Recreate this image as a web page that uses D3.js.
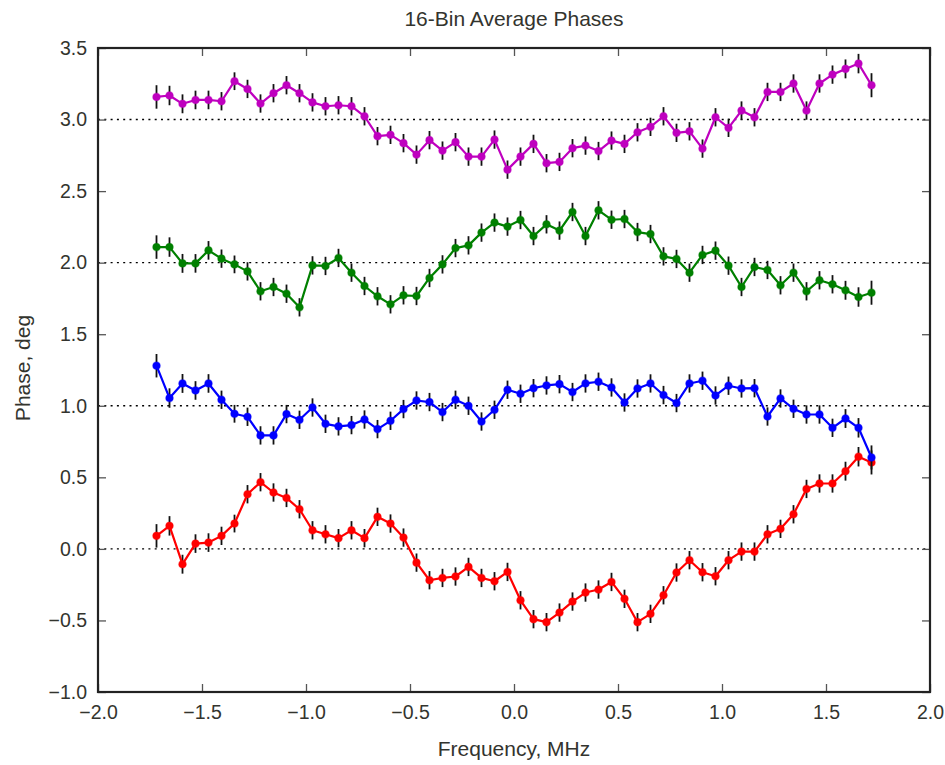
<!DOCTYPE html>
<html>
<head>
<meta charset="utf-8">
<script src="https://cdn.jsdelivr.net/npm/d3@7"></script>
<style>
  html, body { margin: 0; padding: 0; background: #fff; }
  svg { display: block; }
  text { font-family: "Liberation Sans", Arial, Helvetica, sans-serif; fill: #33342e; }
</style>
</head>
<body>
<script>
// Channel centre frequencies (MHz), 16-bin averages
const freqs = [
  -1.71875, -1.65625, -1.59375, -1.53125, -1.46875, -1.40625, -1.34375, -1.28125,
  -1.21875, -1.15625, -1.09375, -1.03125, -0.96875, -0.90625, -0.84375, -0.78125,
  -0.71875, -0.65625, -0.59375, -0.53125, -0.46875, -0.40625, -0.34375, -0.28125,
  -0.21875, -0.15625, -0.09375, -0.03125, 0.03125, 0.09375, 0.15625, 0.21875,
  0.28125, 0.34375, 0.40625, 0.46875, 0.53125, 0.59375, 0.65625, 0.71875,
  0.78125, 0.84375, 0.90625, 0.96875, 1.03125, 1.09375, 1.15625, 1.21875,
  1.28125, 1.34375, 1.40625, 1.46875, 1.53125, 1.59375, 1.65625, 1.71875
];

// Averaged phases for each trace (deg)
const phaseRed = [
  0.091, 0.161, -0.107, 0.037, 0.044, 0.091, 0.177, 0.382,
  0.466, 0.394, 0.356, 0.277, 0.130, 0.102, 0.075, 0.130,
  0.075, 0.224, 0.177, 0.079, -0.096, -0.219, -0.203, -0.193,
  -0.126, -0.203, -0.226, -0.161, -0.359, -0.491, -0.512, -0.445,
  -0.368, -0.305, -0.284, -0.231, -0.349, -0.512, -0.454, -0.324,
  -0.165, -0.079, -0.163, -0.191, -0.079, -0.019, -0.019, 0.102,
  0.140, 0.242, 0.419, 0.457, 0.457, 0.543, 0.644, 0.604
];
const phaseBlue = [
  1.280, 1.054, 1.156, 1.107, 1.156, 1.042, 0.944, 0.923,
  0.793, 0.793, 0.942, 0.902, 0.988, 0.874, 0.856, 0.865,
  0.904, 0.837, 0.895, 0.977, 1.037, 1.026, 0.956, 1.042,
  1.000, 0.890, 0.972, 1.112, 1.084, 1.123, 1.142, 1.151,
  1.096, 1.156, 1.168, 1.128, 1.023, 1.121, 1.156, 1.075,
  1.019, 1.156, 1.175, 1.072, 1.140, 1.121, 1.123, 0.925,
  1.051, 0.979, 0.939, 0.939, 0.846, 0.911, 0.846, 0.639
];
const phaseGreen = [
  2.109, 2.109, 1.995, 1.995, 2.086, 2.028, 1.988, 1.939,
  1.800, 1.830, 1.783, 1.688, 1.981, 1.977, 2.033, 1.930,
  1.837, 1.765, 1.709, 1.772, 1.767, 1.893, 1.988, 2.102,
  2.121, 2.210, 2.280, 2.252, 2.298, 2.186, 2.268, 2.224,
  2.354, 2.186, 2.366, 2.300, 2.305, 2.214, 2.200, 2.044,
  2.026, 1.930, 2.054, 2.084, 1.979, 1.830, 1.970, 1.949,
  1.842, 1.930, 1.800, 1.877, 1.849, 1.807, 1.760, 1.790
];
const phaseMagenta = [
  3.158, 3.168, 3.110, 3.137, 3.137, 3.128, 3.268, 3.214,
  3.112, 3.184, 3.240, 3.184, 3.120, 3.093, 3.100, 3.093,
  3.023, 2.884, 2.893, 2.835, 2.755, 2.856, 2.783, 2.842,
  2.741, 2.741, 2.860, 2.650, 2.741, 2.830, 2.695, 2.704,
  2.800, 2.818, 2.780, 2.853, 2.830, 2.911, 2.949, 3.023,
  2.907, 2.918, 2.797, 3.016, 2.942, 3.063, 3.016, 3.193,
  3.193, 3.252, 3.063, 3.252, 3.314, 3.354, 3.391, 3.240
];

// One-sigma phase uncertainty per channel (deg)
const phaseErr = [
  0.082, 0.068, 0.066, 0.065, 0.065, 0.064, 0.062, 0.064,
  0.064, 0.064, 0.064, 0.064, 0.064, 0.064, 0.064, 0.064,
  0.064, 0.064, 0.064, 0.064, 0.064, 0.064, 0.064, 0.064,
  0.064, 0.064, 0.064, 0.064, 0.064, 0.064, 0.064, 0.064,
  0.064, 0.064, 0.064, 0.064, 0.064, 0.064, 0.064, 0.064,
  0.064, 0.064, 0.064, 0.064, 0.064, 0.064, 0.064, 0.064,
  0.064, 0.064, 0.064, 0.064, 0.064, 0.066, 0.068, 0.084
];

const xTicks = [-2.0, -1.5, -1.0, -0.5, 0.0, 0.5, 1.0, 1.5, 2.0];
const yTicks = [-1.0, -0.5, 0.0, 0.5, 1.0, 1.5, 2.0, 2.5, 3.0, 3.5];
const refLevels = [0.0, 1.0, 2.0, 3.0];

const traces = [
  { name: "red", values: phaseRed, color: "#ff0000" },
  { name: "blue", values: phaseBlue, color: "#0000ff" },
  { name: "green", values: phaseGreen, color: "#008000" },
  { name: "magenta", values: phaseMagenta, color: "#bf00bf" }
];

const W = 945, H = 765;
const plotL = 98, plotR = 930, plotT = 48, plotB = 692;

const svg = d3.select("body").append("svg")
  .attr("width", W).attr("height", H);

const x = d3.scaleLinear().domain([-2, 2]).range([plotL, plotR]);
const y = d3.scaleLinear().domain([-1, 3.5]).range([plotB, plotT]);

const fmt = d => d3.format(".1f")(d).replace("-", "\u2212");

// dotted reference levels
svg.append("g").selectAll("line").data(refLevels).join("line")
  .attr("x1", plotL).attr("x2", plotR)
  .attr("y1", d => y(d)).attr("y2", d => y(d))
  .attr("stroke", "#000").attr("stroke-width", 1.4)
  .attr("stroke-dasharray", "2,4.3");

// traces: error bars, then connecting line and markers
const line = d3.line().x((d, i) => x(freqs[i])).y(d => y(d));
traces.forEach(t => {
  const g = svg.append("g").attr("class", "trace-" + t.name);
  g.selectAll("line.err").data(t.values).join("line")
    .attr("class", "err")
    .attr("x1", (d, i) => x(freqs[i])).attr("x2", (d, i) => x(freqs[i]))
    .attr("y1", (d, i) => y(d - phaseErr[i])).attr("y2", (d, i) => y(d + phaseErr[i]))
    .attr("stroke", "#111").attr("stroke-width", 1.8);
  g.append("path").datum(t.values)
    .attr("d", line)
    .attr("fill", "none").attr("stroke", t.color)
    .attr("stroke-width", 2.2).attr("stroke-linejoin", "round");
  g.selectAll("circle").data(t.values).join("circle")
    .attr("cx", (d, i) => x(freqs[i])).attr("cy", d => y(d))
    .attr("r", 3.8).attr("fill", t.color)
    .attr("stroke", t.color).attr("stroke-opacity", 0.35).attr("stroke-width", 1.2);
});

// axes: inward ticks on all four sides
const tickLen = 8;
const xAxisB = d3.axisBottom(x).tickValues(xTicks).tickSizeInner(-tickLen).tickSizeOuter(0).tickPadding(13).tickFormat(fmt);
const xAxisT = d3.axisTop(x).tickValues(xTicks).tickSizeInner(-tickLen).tickSizeOuter(0).tickFormat("");
const yAxisL = d3.axisLeft(y).tickValues(yTicks).tickSizeInner(-tickLen).tickSizeOuter(0).tickPadding(11).tickFormat(fmt);
const yAxisR = d3.axisRight(y).tickValues(yTicks).tickSizeInner(-tickLen).tickSizeOuter(0).tickFormat("");

function styleAxis(g) {
  g.select(".domain").remove();
  g.selectAll(".tick line").attr("stroke", "#555").attr("stroke-width", 1.3);
  g.selectAll(".tick text").attr("font-size", 19.5).attr("fill", "#33342e")
    .style("font-family", '"Liberation Sans", Arial, sans-serif');
}
svg.append("g").attr("transform", `translate(0,${plotB})`).call(xAxisB).call(styleAxis);
svg.append("g").attr("transform", `translate(0,${plotT})`).call(xAxisT).call(styleAxis);
svg.append("g").attr("transform", `translate(${plotL},0)`).call(yAxisL).call(styleAxis);
svg.append("g").attr("transform", `translate(${plotR},0)`).call(yAxisR).call(styleAxis);

// plot frame
svg.append("rect")
  .attr("x", plotL).attr("y", plotT)
  .attr("width", plotR - plotL).attr("height", plotB - plotT)
  .attr("fill", "none").attr("stroke", "#222").attr("stroke-width", 2.2);

// titles
svg.append("text")
  .attr("x", (plotL + plotR) / 2).attr("y", 26)
  .attr("text-anchor", "middle").attr("font-size", 21)
  .text("16-Bin Average Phases");
svg.append("text")
  .attr("x", (plotL + plotR) / 2).attr("y", 756)
  .attr("text-anchor", "middle").attr("font-size", 21)
  .text("Frequency, MHz");
svg.append("text")
  .attr("transform", `translate(30,${(plotT + plotB) / 2 - 2}) rotate(-90)`)
  .attr("text-anchor", "middle").attr("font-size", 21)
  .text("Phase, deg");
</script>
</body>
</html>
